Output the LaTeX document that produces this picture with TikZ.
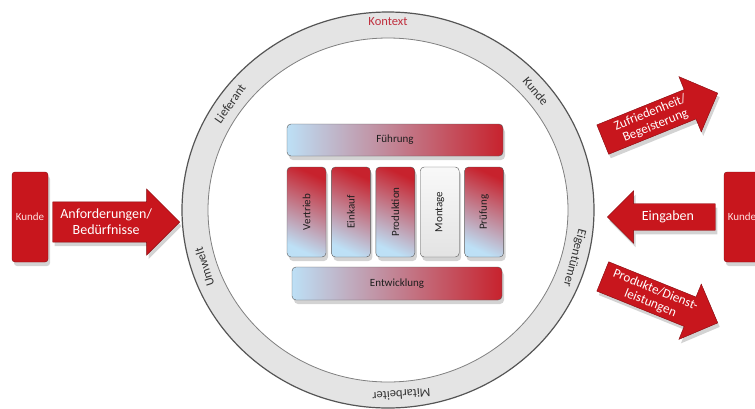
\documentclass[tikz,border=0pt]{standalone}
\usepackage{fontspec}
\setmainfont{Carlito}
\usetikzlibrary{positioning,shapes.arrows,shadows}
\definecolor{kred}{HTML}{C8161D}
\definecolor{kdark}{HTML}{86070C}
\definecolor{lblue}{HTML}{BDE0F6}
\definecolor{bred}{HTML}{C7222D}
\definecolor{ringfill}{HTML}{E4E4E4}
\definecolor{ringline}{HTML}{555555}
\definecolor{txt}{HTML}{1E1E1E}
\definecolor{ctxred}{HTML}{C0303F}

\begin{document}
\begin{tikzpicture}[x=1pt,y=-1pt,
  every node/.style={font=\fontsize{11}{13}\selectfont, text=txt},
  dropsh/.style={drop shadow={shadow xshift=2pt,shadow yshift=-4pt,opacity=.35}},
  wideblock/.style={rounded corners=4pt, draw=gray!70!black, left color=lblue, right color=bred, dropsh},
  dept/.style={rounded corners=4pt, draw=gray!70!black, top color=bred, bottom color=lblue,
    shading angle=-25, dropsh, minimum width=39pt, minimum height=90pt, inner sep=0pt},
  kundebox/.style={rounded corners=3pt, fill=kred, draw=kdark, minimum width=36pt,
    minimum height=90pt, inner sep=0pt, text=red!12, dropsh},
  bigarrow/.style={single arrow, fill=kred, draw=kdark, text=white, align=center,
    inner xsep=0pt, font=\fontsize{14}{16}\selectfont, anchor=tip, dropsh},
  ringtext/.style={font=\fontsize{12.5}{14}\selectfont, text=black!80}]
\useasboundingbox (0,0) rectangle (755,408);

% ring
\fill[ringfill, even odd rule] (388,210) ellipse [x radius=206pt, y radius=198pt]
  (388,210) ellipse [x radius=180pt, y radius=172pt];
\draw[ringline, line width=1.2pt] (388,210) ellipse [x radius=206pt, y radius=198pt];
\draw[gray, line width=.8pt] (388,210) ellipse [x radius=180pt, y radius=172pt];

\node[ringtext, text=ctxred] (kontext) at (388,22) {Kontext};
\foreach \a/\t/\n in {40/Kunde/kundering, 145/Lieferant/lieferant, 198/Umwelt/umwelt,
  -86/Mitarbeiter/mitarbeiter, -15/Eigentümer/eigentuemer}
  \node[ringtext, rotate=\a-90] (\n) at ({388+193*cos(\a)},{210-185*sin(\a)}) {\t};

% departments
\node[wideblock, minimum width=216pt, minimum height=32pt] (fuehrung) at (395,140) {Führung};
\node[dept] (vertrieb) at (306.5,212) {\rotatebox{90}{Vertrieb}};
\node[dept, right=5pt of vertrieb] (einkauf) {\rotatebox{90}{Einkauf}};
\node[dept, right=5pt of einkauf] (produktion) {\rotatebox{90}{Produktion}};
\node[dept, right=5pt of produktion, top color=gray!5, bottom color=gray!22,
  shading angle=0] (montage) {\rotatebox{90}{Montage}};
\node[dept, right=5pt of montage] (pruefung) {\rotatebox{90}{Prüfung}};
\node[wideblock, minimum width=210pt, minimum height=33pt] (entwicklung) at (397,283.5) {Entwicklung};

% customers and flows
\node[kundebox] (kunde-l) at (30,217) {Kunde};
\node[kundebox] (kunde-r) at (742,217) {Kunde};

\node[bigarrow, minimum height=127pt, single arrow head extend=13pt, inner ysep=7pt]
  (anforderungen) at (180,222) {Anforderungen/\\Bedürfnisse};
\node[bigarrow, shape border rotate=180, minimum height=108pt,
  single arrow head extend=13pt, inner ysep=7pt] (eingaben) at (607,217) {Eingaben};
\node[bigarrow, rotate=22, font=\fontsize{13}{14}\selectfont, minimum height=124pt,
  single arrow head extend=14pt, inner ysep=3pt] (zufriedenheit) at (718,93)
  {Zufriedenheit/\\Begeisterung};
\node[bigarrow, rotate=-22, font=\fontsize{13}{14}\selectfont, minimum height=124pt,
  single arrow head extend=14pt, inner ysep=3pt] (produkte) at (718,323)
  {Produkte/Dienst-\\leistungen};
\end{tikzpicture}
\end{document}
